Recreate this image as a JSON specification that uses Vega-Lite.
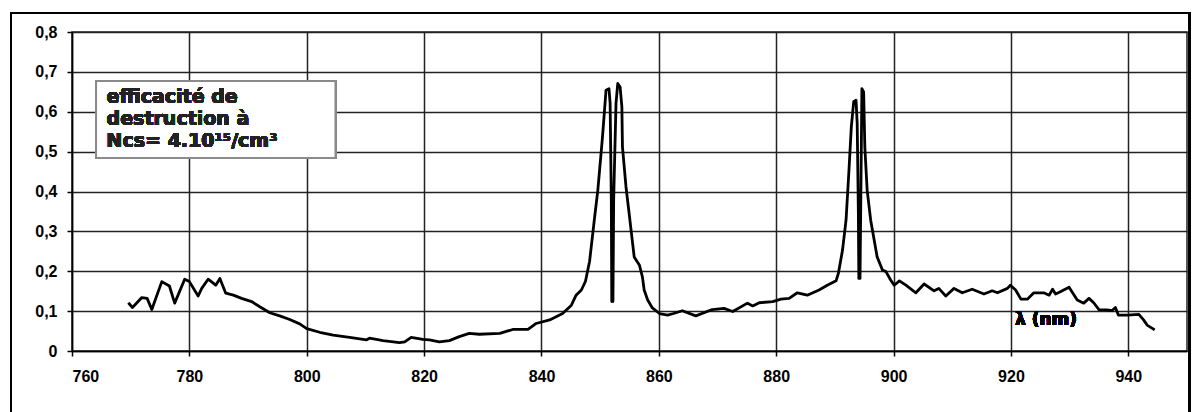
{
  "$schema": "https://vega.github.io/schema/vega-lite/v6.json",
  "width": 1115,
  "height": 319,
  "autosize": "none",
  "padding": {"left": 72, "top": 32, "right": 6, "bottom": 61},
  "background": "white",
  "config": {
    "view": {"stroke": "#222", "strokeWidth": 1.5},
    "axis": {
      "labelFont": "Liberation Sans",
      "labelFontWeight": "bold",
      "labelFontSize": 16,
      "labelColor": "#000",
      "gridColor": "#222",
      "gridWidth": 1.5,
      "gridOpacity": 1,
      "domainColor": "#000",
      "domainWidth": 1.5,
      "tickColor": "#000",
      "tickWidth": 1.5,
      "tickSize": 5,
      "title": null
    }
  },
  "data": {
    "values": [
      {"l": 769.6, "v": 0.121}, {"l": 770.3, "v": 0.109}, {"l": 771.9, "v": 0.134}, {"l": 772.8, "v": 0.132},
      {"l": 773.6, "v": 0.104}, {"l": 775.3, "v": 0.174}, {"l": 776.6, "v": 0.163}, {"l": 777.5, "v": 0.12},
      {"l": 779.2, "v": 0.18}, {"l": 780.0, "v": 0.174}, {"l": 781.5, "v": 0.138}, {"l": 782.1, "v": 0.157},
      {"l": 783.2, "v": 0.18}, {"l": 784.5, "v": 0.165}, {"l": 785.2, "v": 0.182}, {"l": 786.2, "v": 0.145},
      {"l": 787.5, "v": 0.14}, {"l": 788.9, "v": 0.132}, {"l": 790.6, "v": 0.124}, {"l": 792.0, "v": 0.111},
      {"l": 793.7, "v": 0.096}, {"l": 795.4, "v": 0.088}, {"l": 797.1, "v": 0.079}, {"l": 798.8, "v": 0.068},
      {"l": 800.0, "v": 0.056}, {"l": 802.2, "v": 0.047}, {"l": 804.5, "v": 0.040}, {"l": 807.3, "v": 0.034},
      {"l": 810.2, "v": 0.028}, {"l": 810.7, "v": 0.032}, {"l": 813.0, "v": 0.026}, {"l": 815.8, "v": 0.021},
      {"l": 816.7, "v": 0.023}, {"l": 817.8, "v": 0.034}, {"l": 819.8, "v": 0.029}, {"l": 820.9, "v": 0.028},
      {"l": 822.6, "v": 0.023}, {"l": 824.3, "v": 0.026}, {"l": 826.0, "v": 0.036}, {"l": 827.7, "v": 0.044},
      {"l": 829.4, "v": 0.042}, {"l": 832.9, "v": 0.044}, {"l": 835.1, "v": 0.054}, {"l": 837.7, "v": 0.054},
      {"l": 839.1, "v": 0.069}, {"l": 841.4, "v": 0.078}, {"l": 843.6, "v": 0.094}, {"l": 845.1, "v": 0.115},
      {"l": 845.9, "v": 0.14}, {"l": 846.8, "v": 0.153}, {"l": 847.5, "v": 0.175}, {"l": 848.2, "v": 0.225},
      {"l": 849.0, "v": 0.328}, {"l": 849.6, "v": 0.403}, {"l": 850.4, "v": 0.537}, {"l": 851.0, "v": 0.654},
      {"l": 851.5, "v": 0.658}, {"l": 851.7, "v": 0.621}, {"l": 851.9, "v": 0.378}, {"l": 851.98, "v": 0.124},
      {"l": 852.08, "v": 0.36}, {"l": 852.18, "v": 0.124}, {"l": 852.3, "v": 0.378}, {"l": 852.7, "v": 0.621},
      {"l": 853.0, "v": 0.671},
      {"l": 853.4, "v": 0.662}, {"l": 853.7, "v": 0.612}, {"l": 853.8, "v": 0.512}, {"l": 854.4, "v": 0.412},
      {"l": 855.0, "v": 0.337}, {"l": 855.8, "v": 0.236}, {"l": 856.7, "v": 0.215}, {"l": 857.2, "v": 0.186},
      {"l": 857.5, "v": 0.153}, {"l": 858.1, "v": 0.128}, {"l": 858.9, "v": 0.108}, {"l": 860.1, "v": 0.094},
      {"l": 861.5, "v": 0.090}, {"l": 862.5, "v": 0.094}, {"l": 864.0, "v": 0.101}, {"l": 866.3, "v": 0.088},
      {"l": 869.1, "v": 0.104}, {"l": 871.1, "v": 0.107}, {"l": 872.6, "v": 0.099}, {"l": 875.1, "v": 0.120},
      {"l": 876.0, "v": 0.113}, {"l": 877.1, "v": 0.121}, {"l": 879.4, "v": 0.124}, {"l": 880.8, "v": 0.130},
      {"l": 882.2, "v": 0.132}, {"l": 883.6, "v": 0.146}, {"l": 885.3, "v": 0.140}, {"l": 887.3, "v": 0.153},
      {"l": 888.7, "v": 0.165}, {"l": 890.2, "v": 0.176}, {"l": 890.6, "v": 0.195}, {"l": 891.0, "v": 0.228},
      {"l": 891.3, "v": 0.253}, {"l": 891.9, "v": 0.328}, {"l": 892.4, "v": 0.454}, {"l": 892.8, "v": 0.562},
      {"l": 893.2, "v": 0.625}, {"l": 893.6, "v": 0.629}, {"l": 893.8, "v": 0.571}, {"l": 894.0, "v": 0.345},
      {"l": 894.08, "v": 0.182}, {"l": 894.18, "v": 0.33}, {"l": 894.28, "v": 0.182}, {"l": 894.45, "v": 0.429},
      {"l": 894.6, "v": 0.658},
      {"l": 894.9, "v": 0.650}, {"l": 895.1, "v": 0.512}, {"l": 895.5, "v": 0.403}, {"l": 896.1, "v": 0.328},
      {"l": 896.7, "v": 0.278}, {"l": 897.2, "v": 0.236}, {"l": 898.1, "v": 0.203}, {"l": 898.7, "v": 0.199},
      {"l": 899.5, "v": 0.178}, {"l": 900.1, "v": 0.165}, {"l": 901.0, "v": 0.176}, {"l": 902.1, "v": 0.165},
      {"l": 903.8, "v": 0.146}, {"l": 905.2, "v": 0.168}, {"l": 906.9, "v": 0.151}, {"l": 907.7, "v": 0.157},
      {"l": 908.9, "v": 0.138}, {"l": 910.3, "v": 0.157}, {"l": 911.7, "v": 0.146}, {"l": 913.4, "v": 0.155},
      {"l": 915.4, "v": 0.143}, {"l": 916.8, "v": 0.151}, {"l": 917.7, "v": 0.146}, {"l": 919.4, "v": 0.157},
      {"l": 919.9, "v": 0.165}, {"l": 920.8, "v": 0.153}, {"l": 921.7, "v": 0.130}, {"l": 922.8, "v": 0.130},
      {"l": 923.9, "v": 0.146}, {"l": 925.6, "v": 0.146}, {"l": 926.5, "v": 0.140}, {"l": 927.1, "v": 0.155},
      {"l": 927.6, "v": 0.143}, {"l": 928.5, "v": 0.149}, {"l": 929.9, "v": 0.160}, {"l": 931.3, "v": 0.128},
      {"l": 932.4, "v": 0.120}, {"l": 933.3, "v": 0.132}, {"l": 934.1, "v": 0.121}, {"l": 935.0, "v": 0.104},
      {"l": 936.4, "v": 0.103}, {"l": 937.2, "v": 0.101}, {"l": 937.8, "v": 0.109}, {"l": 938.3, "v": 0.090},
      {"l": 939.8, "v": 0.090}, {"l": 941.8, "v": 0.092}, {"l": 942.6, "v": 0.078}, {"l": 943.2, "v": 0.065},
      {"l": 944.5, "v": 0.053}
    ]
  },
  "encoding": {
    "x": {
      "field": "l",
      "type": "quantitative",
      "scale": {"domain": [760, 950], "nice": false, "zero": false},
      "axis": {
        "values": [760, 780, 800, 820, 840, 860, 880, 900, 920, 940],
        "labelPadding": 12,
        "format": "d"
      }
    },
    "y": {
      "field": "v",
      "type": "quantitative",
      "scale": {"domain": [0, 0.8], "nice": false},
      "axis": {
        "values": [0, 0.1, 0.2, 0.3, 0.4, 0.5, 0.6, 0.7, 0.8],
        "labelPadding": 10,
        "labelExpr": "datum.value == 0 ? '0' : replace(format(datum.value, '.1f'), '.', ',')"
      }
    }
  },
  "layer": [
    {
      "mark": {"type": "line", "color": "#000", "strokeWidth": 2.8, "strokeJoin": "round"}
    },
    {
      "mark": {"type": "rect", "fill": "white", "stroke": "#8a8a8a", "strokeWidth": 2},
      "encoding": {
        "x": {"datum": 764.1},
        "x2": {"datum": 804.9},
        "y": {"datum": 0.677},
        "y2": {"datum": 0.484}
      }
    },
    {
      "mark": {
        "type": "text",
        "text": ["efficacité de", "destruction à", "Ncs= 4.10¹⁵/cm³"],
        "font": "DejaVu Sans",
        "fontWeight": "bold",
        "fontSize": 19,
        "lineHeight": 21.7,
        "align": "left",
        "baseline": "alphabetic",
        "color": "#222"
      },
      "encoding": {
        "x": {"datum": 765.9},
        "y": {"datum": 0.621}
      }
    },
    {
      "mark": {
        "type": "text",
        "text": "λ (nm)",
        "font": "DejaVu Sans",
        "fontWeight": "bold",
        "fontSize": 17,
        "align": "left",
        "baseline": "middle",
        "color": "#000"
      },
      "encoding": {
        "x": {"datum": 920.7},
        "y": {"datum": 0.078}
      }
    },
    {
      "mark": {"type": "rect", "fill": null, "fillOpacity": 0, "stroke": "#000", "strokeWidth": 1.5, "clip": false},
      "encoding": {
        "x": {"datum": 749.6},
        "x2": {"datum": 950.4},
        "y": {"datum": 0.847},
        "y2": {"datum": -0.3}
      }
    }
  ]
}
